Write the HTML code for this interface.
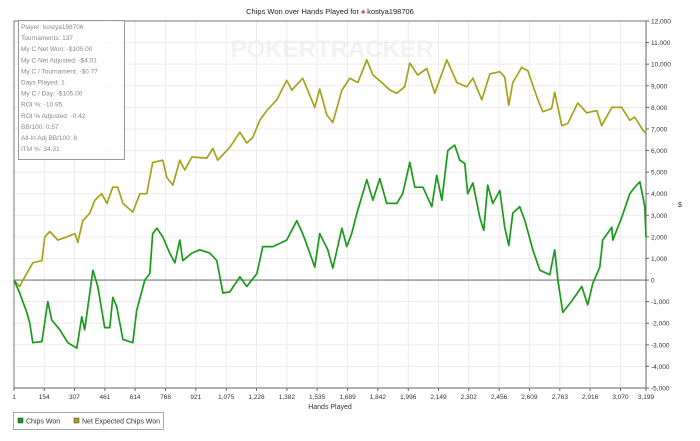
<!DOCTYPE html>
<html><head><meta charset="utf-8"><style>
body{margin:0;background:#fff;width:700px;height:436px;overflow:hidden;font-family:"Liberation Sans",sans-serif}
svg text{font-family:"Liberation Sans",sans-serif}
</style></head><body>
<svg id="chart" width="700" height="436" xmlns="http://www.w3.org/2000/svg">
<text x="330" y="14" font-size="7.5" text-anchor="middle" fill="#222">Chips Won over Hands Played for <tspan fill="#d33">♠</tspan> kostya198706</text>
<text x="332" y="57" font-size="24" font-weight="bold" text-anchor="middle" fill="#f2f2f2">POKERTRACKER</text>
<g id="grid"></g><g id="axes"></g><g id="series"></g>
<g>
<rect x="18.5" y="20.5" width="106" height="139" fill="#fff" fill-opacity="0.85" stroke="#999"/>
<g font-size="6.5" fill="#888" id="stats"></g>
</g>
<text x="330" y="409" font-size="7" text-anchor="middle" fill="#333">Hands Played</text>
<text x="680" y="207" font-size="7" text-anchor="middle" fill="#333">$</text>
<g>
<rect x="13.5" y="412.5" width="150" height="17" fill="#fff" stroke="#aaa"/>
<g><rect x="18" y="418" width="5" height="5" fill="#1a9a1a" stroke="#333" stroke-width="0.5"/><text x="26" y="423.5" font-size="7" fill="#333">Chips Won</text></g>
<g><rect x="74" y="418" width="5" height="5" fill="#a6a21a" stroke="#333" stroke-width="0.5"/><text x="82" y="423.5" font-size="7" fill="#333">Net Expected Chips Won</text></g>
</g>
</svg>
<script>
const xTickLabels=["1","154","307","461","614","768","921","1,075","1,228","1,382","1,535","1,689","1,842","1,996","2,149","2,302","2,456","2,609","2,763","2,916","3,070","3,199"];
const xTickValues=[1,154,307,461,614,768,921,1075,1228,1382,1535,1689,1842,1996,2149,2302,2456,2609,2763,2916,3070,3199];
const yTicks=[-5000,-4000,-3000,-2000,-1000,0,1000,2000,3000,4000,5000,6000,7000,8000,9000,10000,11000,12000];
const statsLines=["Player: kostya198706","Tournaments: 137","My C Net Won: -$105.00","My C Net Adjusted: -$4.01","My C / Tournament: -$0.77","Days Played: 1","My C / Day: -$105.00","ROI %: -10.95","ROI % Adjusted: -0.42","BB/100: 0.57","All-In Adj BB/100: 8","ITM %: 34.31"];
const wonHands=[1,30,66,81,96,142,172,192,233,273,319,344,359,400,425,460,486,501,521,552,602,622,663,688,703,724,754,789,815,840,855,901,941,992,1027,1058,1093,1144,1179,1230,1260,1311,1346,1381,1432,1462,1498,1523,1548,1589,1614,1660,1685,1710,1736,1786,1817,1852,1887,1938,1968,2004,2029,2070,2115,2140,2166,2196,2231,2257,2282,2297,2323,2358,2378,2398,2424,2459,2484,2505,2525,2560,2586,2626,2662,2712,2737,2753,2778,2829,2874,2904,2930,2965,2980,3026,3031,3076,3117,3142,3168,3193,3199];
const wonValues=[0,-600,-1500,-2000,-2900,-2850,-1000,-1850,-2300,-2900,-3150,-1700,-2300,450,-300,-2200,-2200,-800,-1250,-2750,-2900,-1400,0,300,2150,2400,2000,1250,800,1850,900,1250,1400,1250,900,-600,-550,150,-300,300,1550,1550,1700,1850,2750,2150,1250,600,2150,1400,550,2400,1550,2150,3100,4650,3700,4700,3550,3550,4000,5450,4300,4300,3400,4850,3700,6000,6250,5550,5400,4000,4500,2900,2300,4400,3550,4150,2450,1600,3100,3400,2750,1400,450,250,1400,0,-1500,-900,-300,-1150,-150,600,1850,2450,1850,2900,4000,4300,4550,3400,2000];
const expHands=[1,30,46,66,96,142,157,182,223,268,309,324,349,385,410,445,471,501,526,552,602,638,673,703,754,774,805,840,865,901,977,1007,1032,1093,1144,1179,1209,1245,1280,1331,1381,1407,1462,1523,1548,1584,1614,1660,1700,1741,1786,1817,1862,1903,1938,1978,2004,2044,2090,2130,2191,2242,2292,2323,2368,2409,2459,2484,2505,2525,2570,2601,2652,2677,2722,2737,2773,2803,2854,2899,2950,2975,3026,3076,3117,3142,3183,3199];
const expValues=[0,-300,0,300,800,900,2000,2250,1850,2000,2150,1750,2750,3100,3700,4000,3550,4300,4300,3550,3150,4000,4000,5450,5550,4750,4400,5550,5100,5700,5650,6100,5550,6150,6850,6350,6600,7400,7850,8350,9250,8800,9350,8000,8850,7650,7300,8800,9350,9150,10200,9500,9150,8800,8650,8950,10050,9500,9800,8650,10200,9150,8950,9350,8350,9550,9650,9400,8100,9150,9850,9700,8350,7800,7950,8700,7150,7250,8200,7750,7850,7150,8000,8000,7400,7550,6950,6800];

const NS="http://www.w3.org/2000/svg";
const L=14,R=646,T=21,B=388,hMin=1,hMax=3199,vMin=-5000,vMax=12000;
const xs=h=>L+(h-hMin)/(hMax-hMin)*(R-L);
const ys=v=>B-(v-vMin)/(vMax-vMin)*(B-T);
function mk(tag,attrs,parent){const e=document.createElementNS(NS,tag);for(const k in attrs)e.setAttribute(k,attrs[k]);parent.appendChild(e);return e;}
const grid=document.getElementById('grid'),axes=document.getElementById('axes'),series=document.getElementById('series');
yTicks.forEach((v,i)=>{
  const y=ys(v);
  const g=mk('line',{x1:L,x2:R,y1:y,y2:y,stroke:'#ececec','stroke-width':1},grid);
  
  
  mk('line',{x1:R,x2:R+3,y1:y,y2:y,stroke:'#666'},axes);
  const t=mk('text',{x:R+5,y:y+2.5,'font-size':'6.5',fill:'#333'},axes);
  t.textContent=v.toLocaleString('en-US');
  
  
});
xTickValues.forEach((h,i)=>{
  const x=xs(h);
  const g=mk('line',{x1:x,x2:x,y1:T,y2:B,stroke:'#ececec'},grid);
  
  
  mk('line',{x1:x,x2:x,y1:B,y2:B+3,stroke:'#666'},axes);
  const t=mk('text',{x:x,y:B+11,'font-size':'6.5',fill:'#333','text-anchor':'middle'},axes);
  t.textContent=xTickLabels[i];
  
  
});
mk('line',{x1:L,x2:R,y1:T,y2:T,stroke:'#777'},axes);
mk('line',{x1:L,x2:L,y1:T,y2:B,stroke:'#777'},axes);
mk('line',{x1:R,x2:R,y1:T,y2:B,stroke:'#666'},axes);
mk('line',{x1:L,x2:R,y1:B,y2:B,stroke:'#666'},axes);
const zl=mk('line',{x1:L,x2:R,y1:ys(0),y2:ys(0),stroke:'#777','stroke-width':1.2},axes);


function line(hs,vs){return hs.map((h,i)=>xs(h).toFixed(1)+','+ys(vs[i]).toFixed(1)).join(' ');}
const pe=mk('polyline',{points:line(expHands,expValues),fill:'none',stroke:'#a6a21a','stroke-width':1.7,'stroke-linejoin':'round'},series);


const pw=mk('polyline',{points:line(wonHands,wonValues),fill:'none',stroke:'#1a9a1a','stroke-width':1.7,'stroke-linejoin':'round'},series);


const st=document.getElementById('stats');
statsLines.forEach((s,i)=>{
  const t=mk('text',{x:21,y:29+i*11.1},st);
  t.textContent=s;
  
  
});
</script>
</body></html>
